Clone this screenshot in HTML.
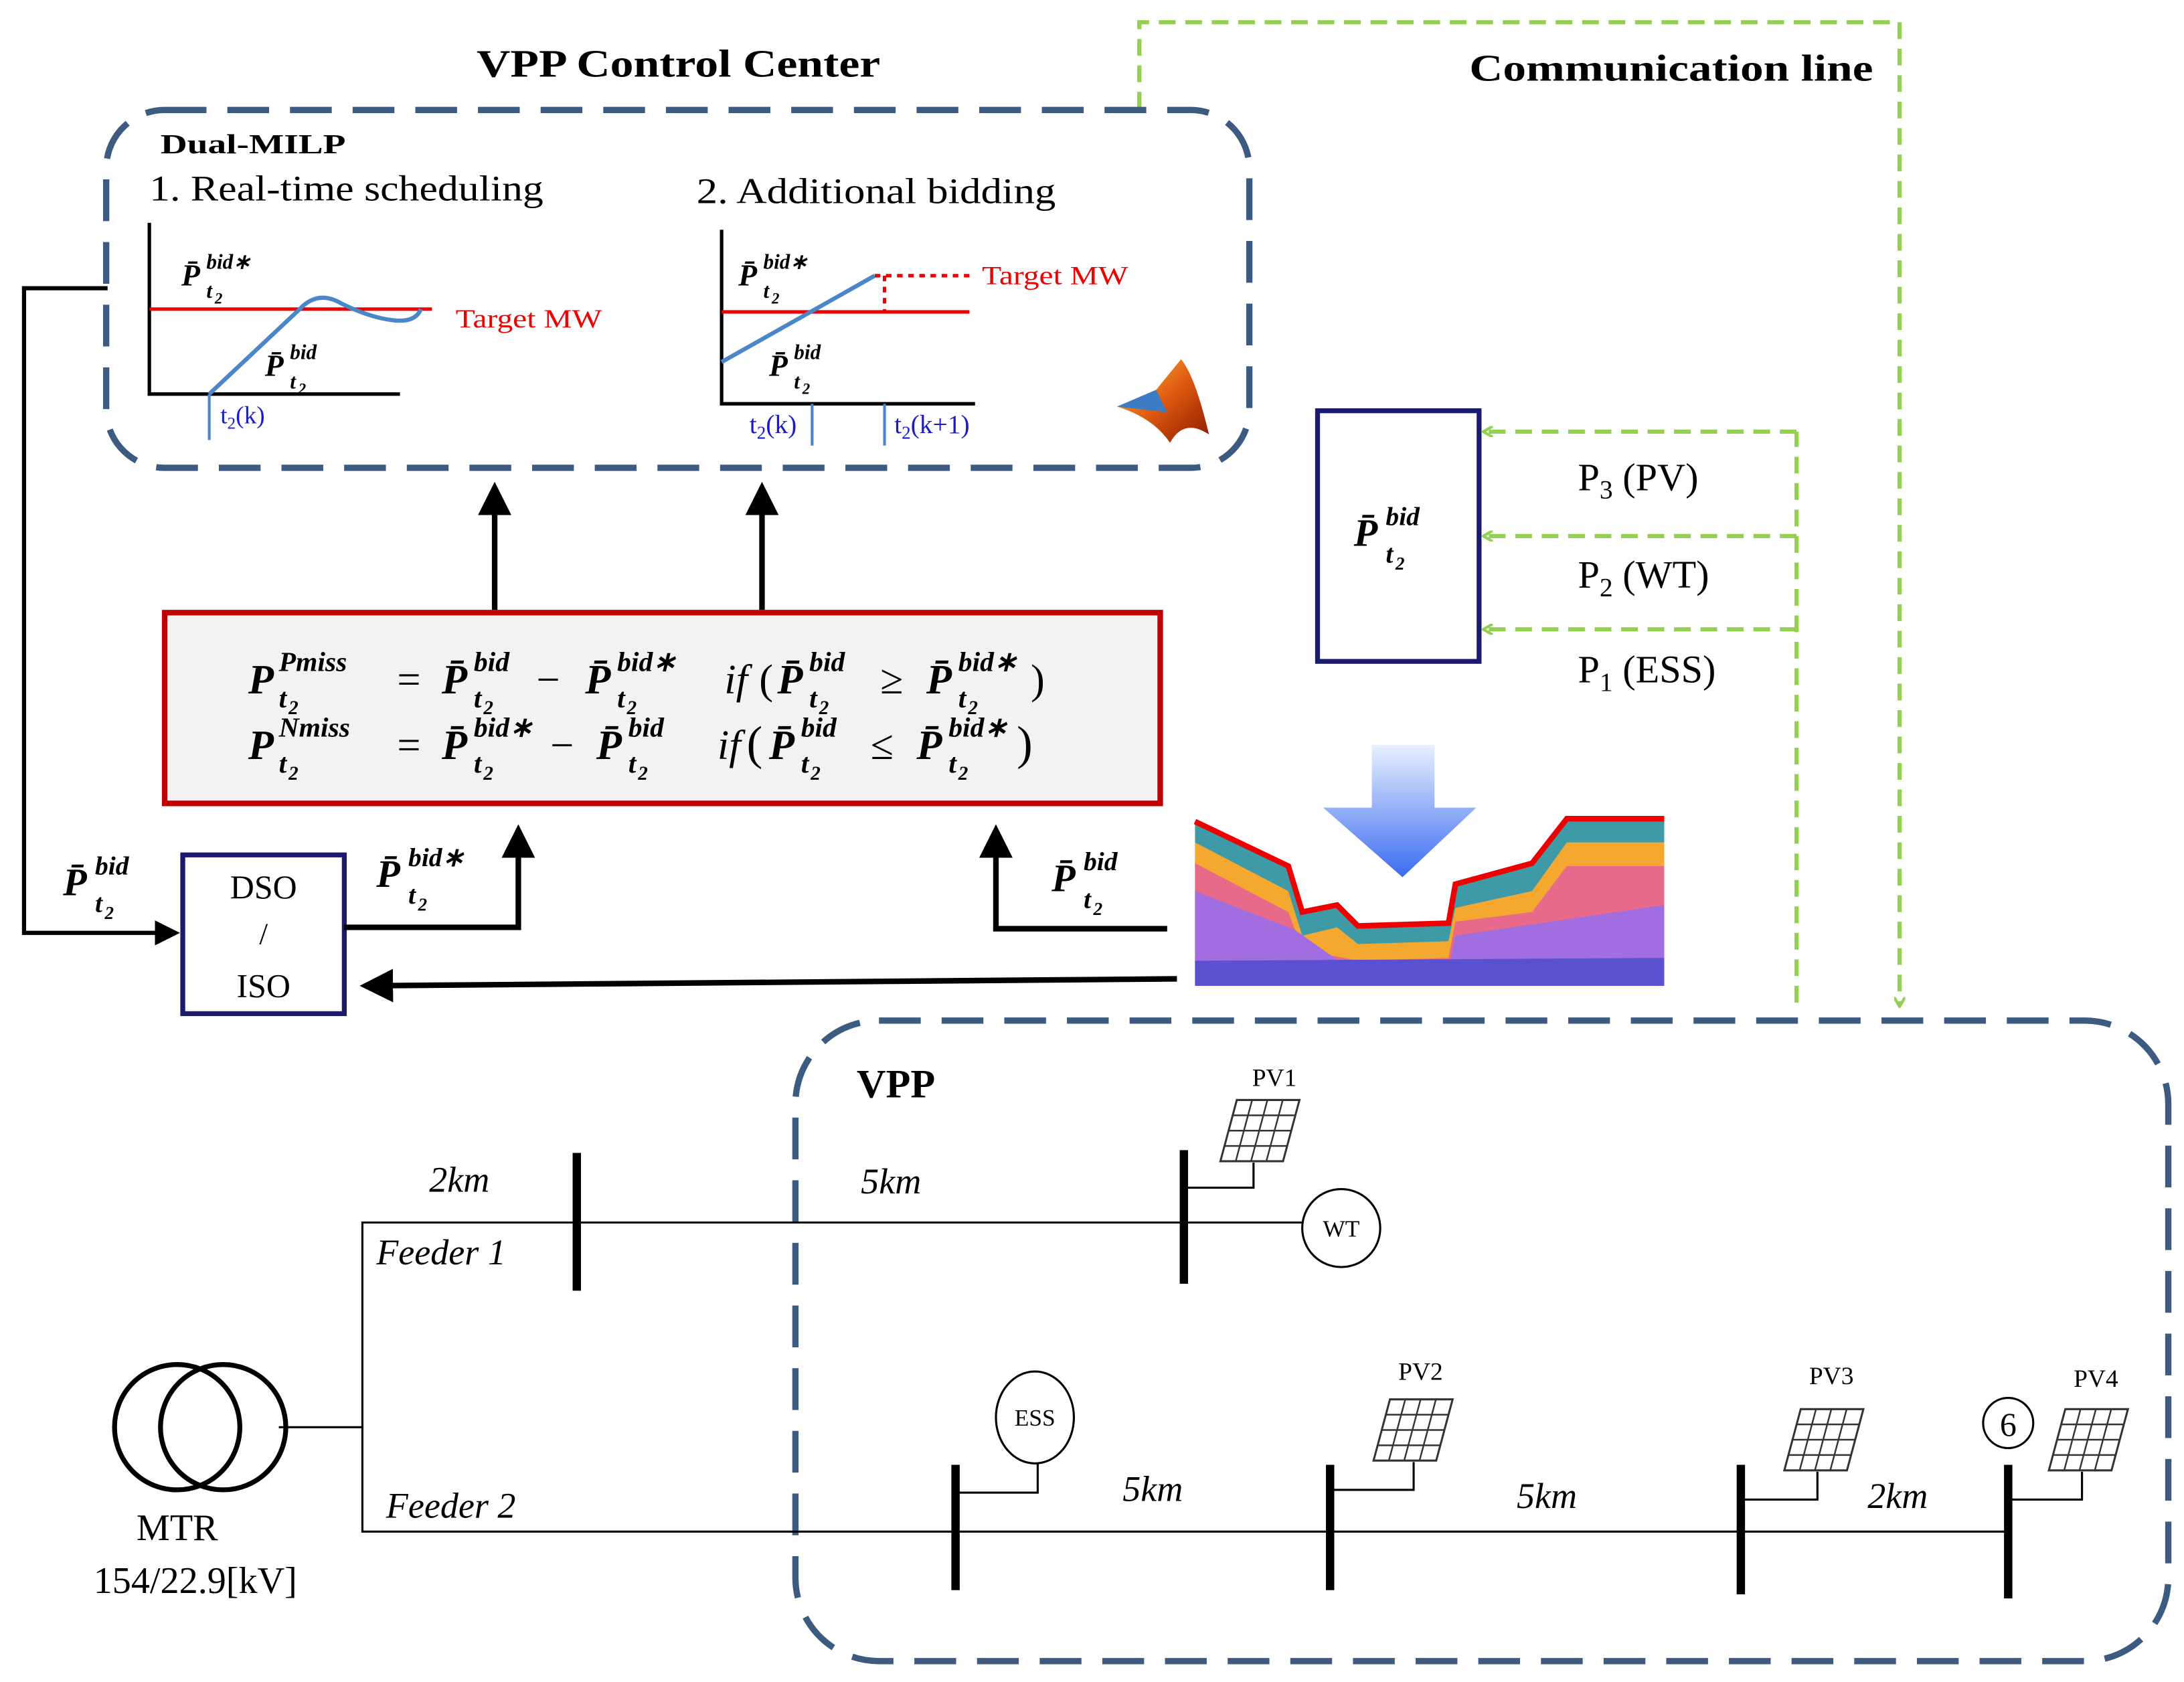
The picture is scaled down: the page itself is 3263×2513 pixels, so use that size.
<!DOCTYPE html>
<html><head><meta charset="utf-8"><style>
html,body{margin:0;padding:0;background:#fff;}
svg{display:block;}
text{font-family:"Liberation Serif",serif;}
.b{font-weight:bold;font-style:italic;}
</style></head><body>
<svg width="3263" height="2513" viewBox="0 0 1568 1208" xmlns="http://www.w3.org/2000/svg">
<defs>
<marker id="ak" markerWidth="6" markerHeight="6" refX="5" refY="3" orient="auto" markerUnits="strokeWidth"><path d="M0,0 L6,3 L0,6 z" fill="#000"/></marker>
<marker id="ag" markerWidth="8" markerHeight="8" refX="6" refY="4" orient="auto" markerUnits="userSpaceOnUse"><path d="M0,0 L7,4 L0,8" fill="none" stroke="#92d050" stroke-width="2"/></marker>
<linearGradient id="bg" x1="0" y1="0" x2="0" y2="1"><stop offset="0" stop-color="#e8f0ff"/><stop offset="1" stop-color="#3a6cf0"/></linearGradient>
<linearGradient id="ml" x1="0" y1="0" x2="1" y2="1"><stop offset="0" stop-color="#f5c040"/><stop offset="0.5" stop-color="#e05a10"/><stop offset="1" stop-color="#8a1a00"/></linearGradient>
<g id="pv"><g transform="skewX(-15)"><rect x="0" y="0" width="45" height="44" fill="#fff" stroke="#333" stroke-width="1.5"/>
<path d="M11,0V44M22,0V44M33,0V44M0,11H45M0,22H45M0,33H45" stroke="#333" stroke-width="1.2"/></g></g>
</defs>

<!-- titles -->
<text x="342" y="55" font-size="28" font-weight="bold" textLength="290" lengthAdjust="spacingAndGlyphs">VPP Control Center</text>
<text x="1055" y="58" font-size="27" font-weight="bold" textLength="290" lengthAdjust="spacingAndGlyphs">Communication line</text>

<!-- communication line -->
<path d="M818,78 V16 H1364 V722" fill="none" stroke="#92d050" stroke-width="3" stroke-dasharray="12 7" marker-end="url(#ag)"/>

<!-- top dashed box -->
<rect x="76" y="79" width="821" height="257" rx="42" fill="none" stroke="#3d5a80" stroke-width="4.5" stroke-dasharray="30 15"/>
<text x="115" y="110" font-size="20" font-weight="bold" textLength="133" lengthAdjust="spacingAndGlyphs">Dual-MILP</text>
<text x="107" y="144" font-size="26" textLength="283" lengthAdjust="spacingAndGlyphs">1. Real-time scheduling</text>
<text x="500" y="146" font-size="26" textLength="258" lengthAdjust="spacingAndGlyphs">2. Additional bidding</text>

<!-- plot1 -->
<path d="M107,160 V283 H287" fill="none" stroke="#000" stroke-width="2.5"/>
<line x1="107" y1="222" x2="310" y2="222" stroke="#e00" stroke-width="2.5"/>
<path d="M150,283 L215,222 Q228,208 245,218 Q265,228 282,230 Q298,232 302,222" fill="none" stroke="#4a86c8" stroke-width="3"/>
<line x1="150" y1="283" x2="150" y2="316" stroke="#4a86c8" stroke-width="2"/>
<text x="158" y="304" font-size="18" fill="#1a1ad0">t<tspan font-size="12" dy="4">2</tspan><tspan dy="-4">(k)</tspan></text>
<text x="327" y="235" font-size="19" fill="#e00" textLength="105" lengthAdjust="spacingAndGlyphs">Target MW</text>
<text x="130" y="205" font-size="22" class="b">P̄</text><text x="148" y="193" font-size="15" class="b">bid∗</text><text x="148" y="214" font-size="15" class="b">t</text><text x="154" y="218" font-size="11" class="b">2</text>
<text x="190" y="270" font-size="22" class="b">P̄</text><text x="208" y="258" font-size="15" class="b">bid</text><text x="208" y="279" font-size="15" class="b">t</text><text x="214" y="283" font-size="11" class="b">2</text>

<!-- plot2 -->
<path d="M518,165 V290 H700" fill="none" stroke="#000" stroke-width="2.5"/>
<line x1="518" y1="224" x2="696" y2="224" stroke="#e00" stroke-width="2.5"/>
<line x1="518" y1="260" x2="628" y2="198" stroke="#4a86c8" stroke-width="3"/>
<line x1="628" y1="198" x2="700" y2="198" stroke="#e00" stroke-width="2.5" stroke-dasharray="4 4"/>
<line x1="635" y1="198" x2="635" y2="224" stroke="#e00" stroke-width="2.5" stroke-dasharray="4 4"/>
<line x1="583" y1="290" x2="583" y2="320" stroke="#4a86c8" stroke-width="2"/>
<line x1="635" y1="290" x2="635" y2="320" stroke="#4a86c8" stroke-width="2"/>
<text x="538" y="311" font-size="19" fill="#1a1ad0">t<tspan font-size="13" dy="4">2</tspan><tspan dy="-4">(k)</tspan></text>
<text x="642" y="311" font-size="19" fill="#1a1ad0">t<tspan font-size="13" dy="4">2</tspan><tspan dy="-4">(k+1)</tspan></text>
<text x="705" y="204" font-size="19" fill="#e00" textLength="105" lengthAdjust="spacingAndGlyphs">Target MW</text>
<text x="530" y="205" font-size="22" class="b">P̄</text><text x="548" y="193" font-size="15" class="b">bid∗</text><text x="548" y="214" font-size="15" class="b">t</text><text x="554" y="218" font-size="11" class="b">2</text>
<text x="552" y="270" font-size="22" class="b">P̄</text><text x="570" y="258" font-size="15" class="b">bid</text><text x="570" y="279" font-size="15" class="b">t</text><text x="576" y="283" font-size="11" class="b">2</text>

<!-- matlab logo -->
<path d="M802,292 L830,280 L848,258 Q858,270 868,312 Q850,300 840,318 Q828,300 802,292z" fill="url(#ml)"/>
<path d="M802,292 L830,280 L838,296 z" fill="#3b7cc4"/>

<!-- up arrows -->
<line x1="355" y1="438" x2="355" y2="350" stroke="#000" stroke-width="4" marker-end="url(#ak)"/>
<line x1="547" y1="438" x2="547" y2="350" stroke="#000" stroke-width="4" marker-end="url(#ak)"/>

<!-- equation box -->
<rect x="118" y="440" width="715" height="137" fill="#f2f2f2" stroke="#c00000" stroke-width="4"/>
<g font-size="30">
<text x="178" y="498" class="b">P</text><text x="200" y="482" font-size="20" class="b">Pmiss</text><text x="200" y="508" font-size="20" class="b">t</text><text x="207" y="513" font-size="14" class="b">2</text>
<text x="285" y="498">=</text>
<text x="317" y="498" class="b">P̄</text><text x="340" y="482" font-size="20" class="b">bid</text><text x="340" y="508" font-size="20" class="b">t</text><text x="347" y="513" font-size="14" class="b">2</text>
<text x="385" y="498">−</text>
<text x="420" y="498" class="b">P̄</text><text x="443" y="482" font-size="20" class="b">bid∗</text><text x="443" y="508" font-size="20" class="b">t</text><text x="450" y="513" font-size="14" class="b">2</text>
<text x="520" y="498" font-style="italic">if</text><text x="545" y="498">(</text>
<text x="558" y="498" class="b">P̄</text><text x="581" y="482" font-size="20" class="b">bid</text><text x="581" y="508" font-size="20" class="b">t</text><text x="588" y="513" font-size="14" class="b">2</text>
<text x="632" y="498">≥</text>
<text x="665" y="498" class="b">P̄</text><text x="688" y="482" font-size="20" class="b">bid∗</text><text x="688" y="508" font-size="20" class="b">t</text><text x="695" y="513" font-size="14" class="b">2</text>
<text x="740" y="498">)</text>

<text x="178" y="545" class="b">P</text><text x="200" y="529" font-size="20" class="b">Nmiss</text><text x="200" y="555" font-size="20" class="b">t</text><text x="207" y="560" font-size="14" class="b">2</text>
<text x="285" y="545">=</text>
<text x="317" y="545" class="b">P̄</text><text x="340" y="529" font-size="20" class="b">bid∗</text><text x="340" y="555" font-size="20" class="b">t</text><text x="347" y="560" font-size="14" class="b">2</text>
<text x="395" y="545">−</text>
<text x="428" y="545" class="b">P̄</text><text x="451" y="529" font-size="20" class="b">bid</text><text x="451" y="555" font-size="20" class="b">t</text><text x="458" y="560" font-size="14" class="b">2</text>
<text x="515" y="545" font-style="italic">if</text><text x="536" y="545" font-size="34">(</text>
<text x="552" y="545" class="b">P̄</text><text x="575" y="529" font-size="20" class="b">bid</text><text x="575" y="555" font-size="20" class="b">t</text><text x="582" y="560" font-size="14" class="b">2</text>
<text x="625" y="545">≤</text>
<text x="658" y="545" class="b">P̄</text><text x="681" y="529" font-size="20" class="b">bid∗</text><text x="681" y="555" font-size="20" class="b">t</text><text x="688" y="560" font-size="14" class="b">2</text>
<text x="730" y="545" font-size="34">)</text>
</g>

<!-- left feedback -->
<path d="M77,207 H17 V670 H126" fill="none" stroke="#000" stroke-width="3" marker-end="url(#ak)"/>
<text x="45" y="643" font-size="28" class="b">P̄</text><text x="68" y="628" font-size="19" class="b">bid</text><text x="68" y="655" font-size="19" class="b">t</text><text x="75" y="660" font-size="13" class="b">2</text>

<!-- DSO box -->
<rect x="131" y="614" width="116" height="114" fill="#fff" stroke="#1a1a6e" stroke-width="3.5"/>
<text x="189" y="645" font-size="24" text-anchor="middle">DSO</text>
<text x="189" y="678" font-size="22" text-anchor="middle">/</text>
<text x="189" y="716" font-size="24" text-anchor="middle">ISO</text>

<path d="M247,666 H372 V596" fill="none" stroke="#000" stroke-width="4" marker-end="url(#ak)"/>
<text x="270" y="637" font-size="28" class="b">P̄</text><text x="293" y="622" font-size="19" class="b">bid∗</text><text x="293" y="649" font-size="19" class="b">t</text><text x="300" y="654" font-size="13" class="b">2</text>
<path d="M838,667 H715 V596" fill="none" stroke="#000" stroke-width="4" marker-end="url(#ak)"/>
<text x="755" y="640" font-size="28" class="b">P̄</text><text x="778" y="625" font-size="19" class="b">bid</text><text x="778" y="652" font-size="19" class="b">t</text><text x="785" y="657" font-size="13" class="b">2</text>
<line x1="845" y1="703" x2="262" y2="708" stroke="#000" stroke-width="4" marker-end="url(#ak)"/>

<!-- blue down arrow -->
<path d="M985,535 H1030 V580 H1060 L1007,630 L950,580 H985 z" fill="url(#bg)"/>

<!-- chart -->
<g>
<path d="M858,590 L925,622 L935,655 L960,650 L975,665 L1040,663 L1045,635 L1100,620 L1125,588 L1195,588 V708 H858 z" fill="#3f9aa8"/>
<path d="M858,605 L925,640 L935,672 L960,666 L975,678 L1040,676 L1045,652 L1100,640 L1125,605 L1195,605 V708 H858 z" fill="#f5a830"/>
<path d="M858,620 L925,655 L935,682 L975,690 L1040,688 L1045,662 L1100,655 L1125,622 L1195,622 V708 H858 z" fill="#e86a8a"/>
<path d="M858,640 L930,668 L975,700 L1040,696 L1045,672 L1195,650 V708 H858 z" fill="#a06ee0"/>
<path d="M858,690 L1195,688 V708 H858 z" fill="#5a50d0"/>
<path d="M858,590 L925,622 L935,655 L960,650 L975,665 L1040,663 L1045,635 L1100,620 L1125,588 L1195,588" fill="none" stroke="#e00" stroke-width="4"/>
</g>

<!-- bid box -->
<rect x="946" y="295" width="116" height="180" fill="#fff" stroke="#1a1a6e" stroke-width="3.5"/>
<text x="972" y="392" font-size="28" class="b">P̄</text><text x="995" y="377" font-size="19" class="b">bid</text><text x="995" y="404" font-size="19" class="b">t</text><text x="1002" y="409" font-size="13" class="b">2</text>

<!-- green dashed -->
<path d="M1290,720 V310" fill="none" stroke="#92d050" stroke-width="3" stroke-dasharray="12 7"/>
<path d="M1290,310 H1066" fill="none" stroke="#92d050" stroke-width="3" stroke-dasharray="12 7" marker-end="url(#ag)"/>
<path d="M1290,385 H1066" fill="none" stroke="#92d050" stroke-width="3" stroke-dasharray="12 7" marker-end="url(#ag)"/>
<path d="M1290,452 H1066" fill="none" stroke="#92d050" stroke-width="3" stroke-dasharray="12 7" marker-end="url(#ag)"/>
<text x="1133" y="352" font-size="28">P<tspan font-size="19" dy="6">3</tspan><tspan dy="-6"> (PV)</tspan></text>
<text x="1133" y="422" font-size="28">P<tspan font-size="19" dy="6">2</tspan><tspan dy="-6"> (WT)</tspan></text>
<text x="1133" y="490" font-size="28">P<tspan font-size="19" dy="6">1</tspan><tspan dy="-6"> (ESS)</tspan></text>

<!-- bottom dashed box -->
<rect x="571" y="733" width="986" height="460" rx="60" fill="none" stroke="#3d5a80" stroke-width="4.5" stroke-dasharray="30 15"/>
<text x="615" y="788" font-size="29" font-weight="bold">VPP</text>

<!-- network -->
<g stroke="#000" fill="none">
<path d="M935,878 H260 V1100 H1442" stroke-width="1.5"/>
<line x1="200" y1="1025" x2="260" y2="1025" stroke-width="1.5"/>
<circle cx="127" cy="1025" r="45" stroke-width="3.5"/>
<circle cx="160" cy="1025" r="45" stroke-width="3.5"/>
<g stroke-width="6">
<line x1="414" y1="828" x2="414" y2="927"/>
<line x1="850" y1="826" x2="850" y2="922"/>
<line x1="686" y1="1052" x2="686" y2="1142"/>
<line x1="955" y1="1052" x2="955" y2="1142"/>
<line x1="1250" y1="1052" x2="1250" y2="1145"/>
<line x1="1442" y1="1052" x2="1442" y2="1148"/>
</g>
<g stroke-width="1.5">
<path d="M850,853 H900 V835"/>
<path d="M686,1072 H745 V1050"/>
<path d="M955,1070 H1015 V1050"/>
<path d="M1250,1077 H1305 V1057"/>
<path d="M1442,1077 H1495 V1057"/>
</g>
<circle cx="963" cy="882" r="28" stroke-width="1.5" fill="#fff"/>
<ellipse cx="743" cy="1018" rx="28" ry="33" stroke-width="1.5" fill="#fff"/>
<circle cx="1442" cy="1022" r="18" stroke-width="1.5" fill="#fff"/>
</g>
<use href="#pv" x="888" y="790"/>
<use href="#pv" x="998" y="1005"/>
<use href="#pv" x="1293" y="1012"/>
<use href="#pv" x="1483" y="1012"/>
<text x="915" y="780" font-size="18" text-anchor="middle">PV1</text>
<text x="1020" y="991" font-size="18" text-anchor="middle">PV2</text>
<text x="1315" y="994" font-size="18" text-anchor="middle">PV3</text>
<text x="1505" y="996" font-size="18" text-anchor="middle">PV4</text>
<text x="963" y="888" font-size="17" text-anchor="middle">WT</text>
<text x="743" y="1024" font-size="17" text-anchor="middle">ESS</text>
<text x="1442" y="1031" font-size="24" text-anchor="middle">6</text>
<g font-size="26" font-style="italic">
<text x="308" y="856">2km</text>
<text x="618" y="857">5km</text>
<text x="270" y="908">Feeder 1</text>
<text x="277" y="1090">Feeder 2</text>
<text x="806" y="1078">5km</text>
<text x="1089" y="1083">5km</text>
<text x="1341" y="1083">2km</text>
</g>
<text x="127" y="1106" font-size="27" text-anchor="middle">MTR</text>
<text x="140" y="1144" font-size="27" text-anchor="middle">154/22.9[kV]</text>
</svg>
</body></html>
